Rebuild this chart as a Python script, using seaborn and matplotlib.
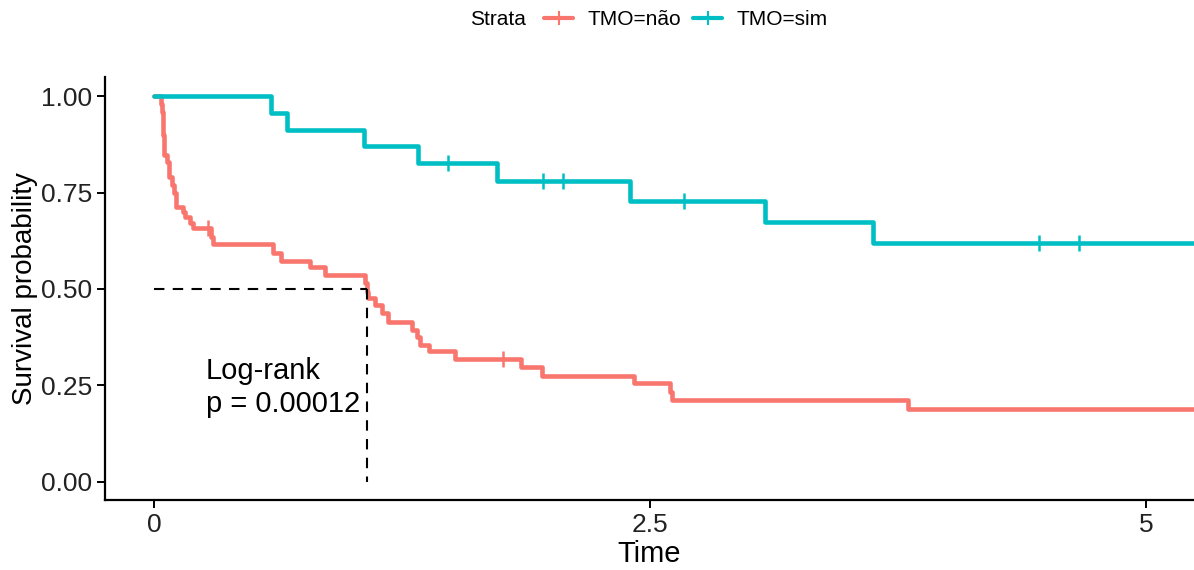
import numpy as np
import pandas as pd
import matplotlib
matplotlib.use("Agg")
import matplotlib.pyplot as plt
from matplotlib.lines import Line2D
import seaborn as sns

# ── Data ─────────────────────────────────────────────────────────────────────
red_time = [0, 0.035, 0.039, 0.045, 0.05, 0.064, 0.077, 0.089, 0.10, 0.111,
            0.145, 0.156, 0.181, 0.198, 0.286, 0.296, 0.598, 0.64, 0.786, 0.86,
            1.063, 1.072, 1.08, 1.114, 1.148, 1.18, 1.30, 1.324, 1.34, 1.383,
            1.517, 1.848, 1.954, 2.42, 2.60, 2.61, 3.80, 5.3]
red_surv = [1.0, 0.98, 0.959, 0.90, 0.847, 0.830, 0.791, 0.769, 0.748, 0.713,
            0.700, 0.687, 0.670, 0.657, 0.635, 0.618, 0.594, 0.573, 0.556, 0.536,
            0.515, 0.493, 0.476, 0.459, 0.437, 0.415, 0.394, 0.375, 0.355, 0.338,
            0.318, 0.297, 0.275, 0.256, 0.232, 0.211, 0.189, 0.189]
red_censor = [0.274, 1.756]

teal_time = [0, 0.59, 0.67, 1.06, 1.33, 1.73, 2.40, 3.08, 3.62, 5.3]
teal_surv = [1.0, 0.957, 0.913, 0.870, 0.826, 0.780, 0.728, 0.674, 0.619, 0.619]
teal_censor = [1.48, 1.96, 2.06, 2.67, 4.46, 4.66]

strata = ["TMO=não", "TMO=sim"]
palette = {"TMO=não": "#F8766D", "TMO=sim": "#00BFC4"}
pval_text = "Log-rank\np = 0.00012"


def surv_at(times, surv, t):
    idx = np.searchsorted(times, t, side="right") - 1
    return np.asarray(surv)[idx]


curves = pd.concat([
    pd.DataFrame({"time": red_time, "surv": red_surv, "strata": strata[0]}),
    pd.DataFrame({"time": teal_time, "surv": teal_surv, "strata": strata[1]}),
], ignore_index=True)

censors = pd.concat([
    pd.DataFrame({"time": red_censor,
                  "surv": surv_at(red_time, red_surv, red_censor),
                  "strata": strata[0]}),
    pd.DataFrame({"time": teal_censor,
                  "surv": surv_at(teal_time, teal_surv, teal_censor),
                  "strata": strata[1]}),
], ignore_index=True)

# median survival of the red group
med_idx = next(i for i, s in enumerate(red_surv) if s <= 0.5)
median_t = red_time[med_idx]

# ── Plot ──────────────────────────────────────────────────────────────────────
sns.set_style("ticks")
plt.rcParams["font.family"] = ["Liberation Sans", "DejaVu Sans"]
plt.rcParams["text.color"] = "black"
plt.rcParams["axes.labelcolor"] = "black"

fig = plt.figure(figsize=(11.94, 5.70), dpi=100)
ax = fig.add_axes([0.088, 0.123, 0.912, 0.742])

sns.lineplot(data=curves, x="time", y="surv", hue="strata", palette=palette,
             drawstyle="steps-post", estimator=None, sort=False,
             linewidth=3.3, legend=False, ax=ax)
for name, grp in censors.groupby("strata"):
    ax.plot(grp["time"], grp["surv"], linestyle="none", marker="|",
            markersize=12, markeredgewidth=1.8, color=palette[name], zorder=4)

# median lines
ax.plot([0, median_t], [0.5, 0.5], color="black", lw=1.5, ls=(0, (5, 4)))
ax.plot([median_t, median_t], [0.5, 0], color="black", lw=1.5, ls=(0, (5, 4)))

ax.text(0.26, 0.245, pval_text, fontsize=21, ha="left", va="center",
        linespacing=1.25, color="black")

ax.set_xlim(-0.247, 5.24)
ax.set_ylim(-0.047, 1.05)
ax.set_xticks([0, 2.5, 5])
ax.set_xticklabels(["0", "2.5", "5"])
ax.set_yticks([0, 0.25, 0.5, 0.75, 1.0])
ax.set_yticklabels(["0.00", "0.25", "0.50", "0.75", "1.00"])
ax.tick_params(labelsize=19, length=6, width=1.4, color="black",
               labelcolor="#222222")
ax.set_xlabel("Time", fontsize=21, labelpad=2)
ax.set_ylabel("Survival probability", fontsize=20, labelpad=2)
for side in ["left", "bottom"]:
    ax.spines[side].set_linewidth(1.6)
    ax.spines[side].set_color("black")
sns.despine(ax=ax)

# legend on top
fig.text(0.394, 0.965, "Strata", fontsize=15, ha="left", va="center")
handles = [Line2D([0], [0], color=palette[s], lw=3, marker="|",
                  markersize=10, markeredgewidth=1.5) for s in strata]
fig.legend(handles, strata, loc="center left", bbox_to_anchor=(0.447, 0.965),
           ncol=2, frameon=False, fontsize=15, handlelength=1.4,
           handletextpad=0.7, columnspacing=0.55, borderpad=0)

fig.savefig("out.png", dpi=100)
